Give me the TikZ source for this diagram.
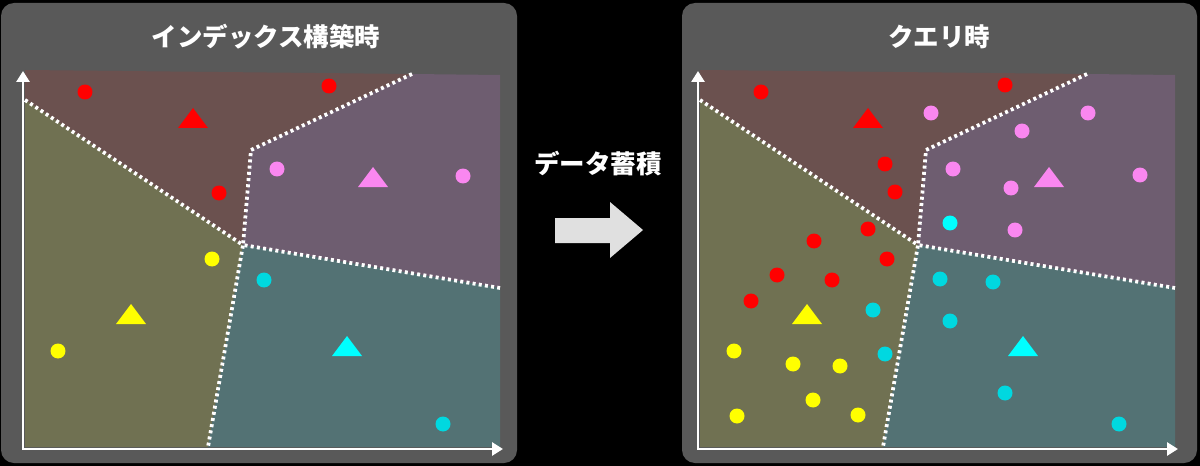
\documentclass[tikz,border=0pt]{standalone}
\usepackage{fontspec}
\newfontfamily\jpfont{Noto Sans CJK JP}
\definecolor{PanelGray}{RGB}{89,89,89}
\definecolor{ArrowGray}{RGB}{224,224,224}
\definecolor{CellRed}{RGB}{107,81,79}
\definecolor{CellPurple}{RGB}{110,93,112}
\definecolor{CellOlive}{RGB}{112,113,82}
\definecolor{CellTeal}{RGB}{83,114,116}
\definecolor{PtRed}{RGB}{255,0,0}
\definecolor{PtPink}{RGB}{250,135,240}
\definecolor{PtYellow}{RGB}{255,255,0}
\definecolor{PtCyan}{RGB}{0,216,224}
\definecolor{TriCyan}{RGB}{0,255,255}
\usetikzlibrary{arrows.meta}

\begin{document}
\begin{tikzpicture}[x=0.02cm, y=-0.02cm,
	ttl/.style={text=white, font=\jpfont\bfseries\fontsize{14.5}{17}\selectfont},
	dot/.style={circle, minimum size=0.3cm, inner sep=0pt},
	rd/.style={dot, fill=PtRed},
	pk/.style={dot, fill=PtPink},
	yl/.style={dot, fill=PtYellow},
	cy/.style={dot, fill=PtCyan},
	ax/.style={-{Triangle[length=0.22cm, width=0.26cm]}, line width=0.055cm, line cap=rect, white},
	bd/.style={white, line width=0.075cm, dash pattern=on 0.06cm off 0.065cm},
	tri/.pic={\fill (-15,10) -- (15,10) -- (0,-10) -- cycle;},
	cells/.pic={
		\coordinate (a) at (25,100);  \coordinate (b) at (412,74);
		\coordinate (c) at (500,288); \coordinate (d) at (208,447);
		\coordinate (j) at (243,245); \coordinate (k) at (251,150);
		\fill[CellRed] (25,70) -- (b) -- (k) -- (j) -- (a) -- cycle;
		\fill[CellPurple] (b) -- (500,75) -- (c) -- (j) -- (k) -- cycle;
		\fill[CellOlive] (a) -- (j) -- (d) -- (25,447) -- cycle;
		\fill[CellTeal] (j) -- (c) -- (500,447) -- (d) -- cycle;
		\draw[bd] (a) -- (j) -- (d); \draw[bd] (b) -- (k) -- (j) -- (c);
		\coordinate (o) at (23,449); \coordinate (yt) at (23,71); \coordinate (xt) at (503,449);
		\draw[ax] (o) -- (yt); \draw[ax] (o) -- (xt);
	}]

	\fill[black] (0,0) rectangle (1200,466);
	\fill[PanelGray, rounded corners=0.26cm] (1,3) rectangle (517,463);
	\fill[PanelGray, rounded corners=0.26cm] (682,3) rectangle (1197,463);

	\pic at (0,0) {cells};
	\pic at (675,0) {cells};

	% index build
	\node[ttl] (t1) at (266,37) {インデックス構築時};
	\node[rd] (r1) at (85,92) {}; \node[rd] (r2) at (329,86) {}; \node[rd] (r3) at (219,193) {};
	\node[pk] (p1) at (277,169) {}; \node[pk] (p2) at (463,176) {};
	\node[yl] (y1) at (212,259) {}; \node[yl] (y2) at (58,351) {};
	\node[cy] (c1) at (264,280) {}; \node[cy] (c2) at (443,424) {};
	\pic[PtRed] at (193,118) {tri};
	\pic[PtPink] at (373,177) {tri};
	\pic[PtYellow] at (131,314) {tri};
	\pic[TriCyan] at (347,346) {tri};

	% data accumulation
	\node[ttl] (t2) at (598,164) {データ蓄積};
	\fill[ArrowGray] (555,218) -- (610,218) -- (610,202) -- (643,230) -- (610,258)
		-- (610,243) -- (555,243) -- cycle;

	% query
	\node[ttl] (t3) at (939,37) {クエリ時};
	\node[rd] (qr1) at (761,92) {}; \node[rd] (qr2) at (1005,85) {};
	\node[rd] (qr3) at (885,164) {}; \node[rd] (qr4) at (895,192) {};
	\node[rd] (qr5) at (868,229) {}; \node[rd] (qr6) at (814,241) {};
	\node[rd] (qr7) at (887,259) {}; \node[rd] (qr8) at (777,275) {};
	\node[rd] (qr9) at (832,280) {}; \node[rd] (qr10) at (751,301) {};
	\node[pk] (qp1) at (931,113) {}; \node[pk] (qp2) at (1088,113) {};
	\node[pk] (qp3) at (1022,131) {}; \node[pk] (qp4) at (953,169) {};
	\node[pk] (qp5) at (1011,188) {}; \node[pk] (qp6) at (1140,175) {};
	\node[pk] (qp7) at (1015,230) {};
	\node[dot, fill=TriCyan] (qc0) at (950,223) {};
	\node[cy] (qc1) at (940,279) {}; \node[cy] (qc2) at (993,282) {};
	\node[cy] (qc3) at (950,321) {}; \node[cy] (qc4) at (873,310) {};
	\node[cy] (qc5) at (885,354) {}; \node[cy] (qc6) at (1005,393) {};
	\node[cy] (qc7) at (1119,424) {};
	\node[yl] (qy1) at (734,351) {}; \node[yl] (qy2) at (793,364) {};
	\node[yl] (qy3) at (840,366) {}; \node[yl] (qy4) at (813,400) {};
	\node[yl] (qy5) at (737,416) {}; \node[yl] (qy6) at (858,415) {};
	\pic[PtRed] at (868,118) {tri};
	\pic[PtPink] at (1049,177) {tri};
	\pic[PtYellow] at (807,314) {tri};
	\pic[TriCyan] at (1023,346) {tri};
\end{tikzpicture}
\end{document}
